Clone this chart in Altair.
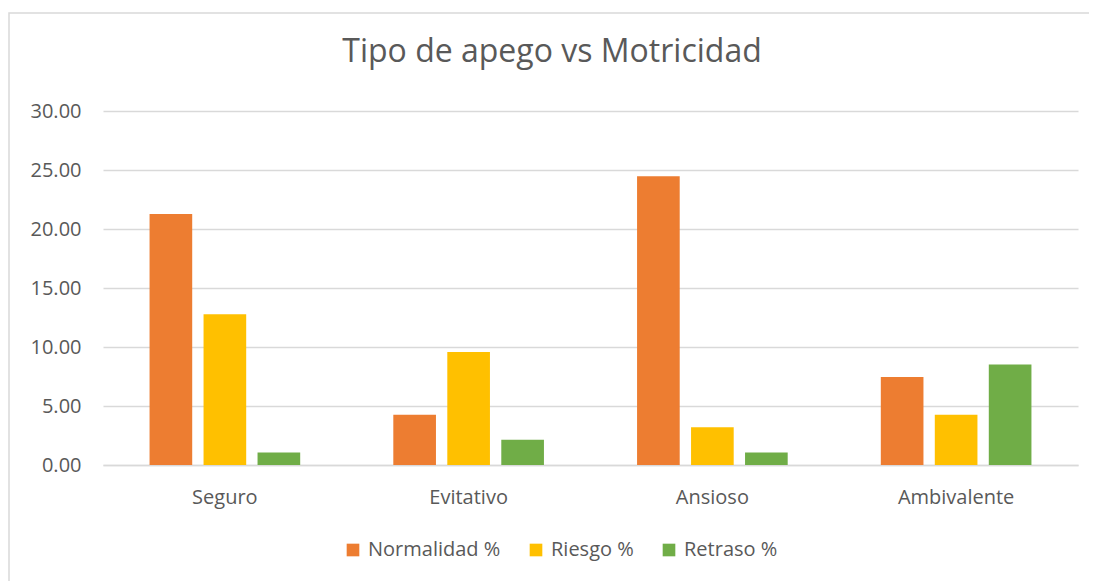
import altair as alt
import pandas as pd

categories = ["Seguro", "Evitativo", "Ansioso", "Ambivalente"]
series = ["Normalidad %", "Riesgo %", "Retraso %"]
normalidad = [21.28, 4.26, 24.47, 7.45]
riesgo = [12.77, 9.57, 3.19, 4.26]
retraso = [1.06, 2.13, 1.06, 8.51]
colors = ["#ED7D31", "#FFC000", "#70AD47"]
title_text = "Tipo de apego vs Motricidad"

rows = []
for i, c in enumerate(categories):
    for s, vals in zip(series, [normalidad, riesgo, retraso]):
        rows.append({"Tipo": c, "Serie": s, "Valor": vals[i]})
df = pd.DataFrame(rows)

FONT = "Open Sans"
GRAY = "#595959"

bars = alt.Chart(df).mark_bar().encode(
    x=alt.X("Tipo:N", sort=categories, title=None,
            scale=alt.Scale(paddingInner=0.382, paddingOuter=0.191),
            axis=alt.Axis(labelAngle=0, labelFontSize=20, labelColor=GRAY, labelFont=FONT,
                          ticks=False, domainColor="#D9D9D9", domainWidth=1.5, labelPadding=22)),
    xOffset=alt.XOffset("Serie:N", sort=series,
                        scale=alt.Scale(paddingInner=0.21, paddingOuter=0)),
    y=alt.Y("Valor:Q", title=None,
            scale=alt.Scale(domain=[0, 30], nice=False),
            axis=alt.Axis(values=[0, 5, 10, 15, 20, 25, 30], format=".2f", labelFontSize=20,
                          labelColor=GRAY, labelFont=FONT, ticks=False, domain=False,
                          gridColor="#D9D9D9", gridWidth=1.5, labelPadding=22)),
    color=alt.Color("Serie:N", sort=series, title=None,
                    scale=alt.Scale(domain=series, range=colors),
                    legend=alt.Legend(orient="none", direction="horizontal", legendX=240, legendY=429,
                                      symbolType="square", symbolSize=160, symbolStrokeWidth=0,
                                      labelFontSize=20, labelColor=GRAY, labelFont=FONT,
                                      columnPadding=25, labelOffset=5)),
)

border = alt.Chart(pd.DataFrame({"a": [0]})).mark_rect(
    fill=None, stroke="#D9D9D9", strokeWidth=1.5, clip=False
).encode(x=alt.value(-94), x2=alt.value(1000), y=alt.value(-98), y2=alt.value(500))

title = alt.Chart(pd.DataFrame({"t": [title_text]})).mark_text(
    font=FONT, fontSize=32, color=GRAY, align="center", baseline="alphabetic", clip=False
).encode(text="t:N", x=alt.value(449), y=alt.value(-49))

chart = alt.layer(border, bars, title).properties(
    width=975, height=354,
    background="white",
    autosize=alt.AutoSizeParams(type="none"),
    padding={"left": 95, "top": 103, "right": 11, "bottom": 116},
).configure_view(stroke="transparent", strokeWidth=0)

chart.save("out.html", embed_options={"renderer": "svg", "actions": False})
